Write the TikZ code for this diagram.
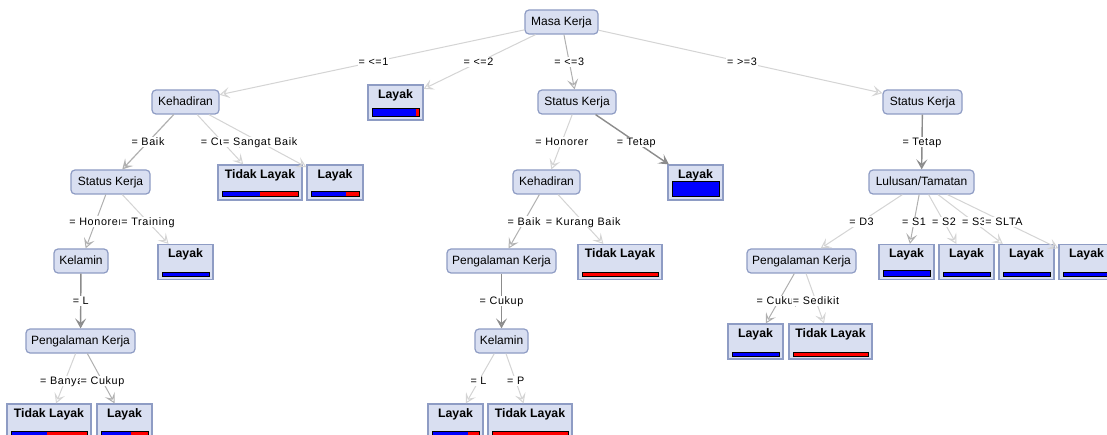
\documentclass[tikz,border=0pt]{standalone}
\usepackage{fontspec}
\setmainfont{Liberation Sans}
\newfontfamily\lblfont[LetterSpace=6]{Liberation Sans}
\usetikzlibrary{arrows.meta}
\definecolor{nfill}{HTML}{D9DFF1}
\definecolor{nborder}{HTML}{8E9CC4}
\definecolor{elight}{HTML}{D4D4D4}
\definecolor{emed}{HTML}{B0B0B0}
\definecolor{edark}{HTML}{8C8C8C}
\definecolor{barblue}{HTML}{0000FF}
\definecolor{barred}{HTML}{FF0000}
\tikzset{
 intnode/.style={draw=nborder, fill=nfill, rounded corners=4pt, line width=1.2pt, minimum height=24pt, inner xsep=3pt, inner ysep=0pt, font=\fontsize{12}{14}\selectfont, text height=8.8pt, text depth=2.6pt},
 leaf/.style={draw=nborder, fill=nfill, line width=1.2pt, minimum height=35pt, inner sep=0pt},
 leaftxt/.style={anchor=base, inner sep=0pt, font=\bfseries\fontsize{12.3}{14}\selectfont},
 lbl/.style={fill=white, inner xsep=1pt, inner ysep=1pt, font=\lblfont\fontsize{10.8}{12}\selectfont, text height=7.8pt, text depth=0.5pt},
 conn/.style={draw=#1, line width=1pt, -{Stealth[open, length=10pt, width=11pt, inset=4.5pt]}},
 conn/.default=elight,
 connd/.style={conn=edark, line width=1.4pt},
}
\newcommand\leafnode[7]{%
 \node[leaf, minimum width=#4pt] (#1) at (#2,#3) {};
 \node[leaftxt] at ([yshift=-14pt]#1.north) {#5};
 \pgfmathsetmacro\lfxa{#2-#4/2+4}%
 \pgfmathsetmacro\lfxb{#2+#4/2-4}%
 \pgfmathsetmacro\lfxm{\lfxa+(\lfxb-\lfxa)*#6}%
 \pgfmathsetmacro\lfyb{#3+17.5-3}%
 \pgfmathsetmacro\lfyt{\lfyb-#7}%
 \fill[barred] (\lfxa,\lfyb) rectangle (\lfxb,\lfyt);
 \fill[barblue] (\lfxa,\lfyb) rectangle (\lfxm,\lfyt);
 \draw[black, line width=1pt] (\lfxa,\lfyb) rectangle (\lfxb,\lfyt);
}
\begin{document}
\begin{tikzpicture}[x=1pt, y=-1pt]
\fill[white] (0,0) rectangle (1107,435);
\useasboundingbox (0,0) rectangle (1107,435);
\clip (0,0) rectangle (1107,435);
% internal nodes
\node[intnode, minimum width=73pt] (root) at (561.5,22) {Masa Kerja};
\node[intnode, minimum width=67pt] (kehL) at (185.5,102) {Kehadiran};
\node[intnode, minimum width=78pt] (statM) at (577,102) {Status Kerja};
\node[intnode, minimum width=79pt] (statR) at (922.5,102) {Status Kerja};
\node[intnode, minimum width=79pt] (statL) at (110.5,182) {Status Kerja};
\node[intnode, minimum width=67pt] (kehM) at (546.5,182) {Kehadiran};
\node[intnode, minimum width=105pt] (lulus) at (921.5,182) {Lulusan/Tamatan};
\node[intnode, minimum width=54pt] (kelL) at (81,261) {Kelamin};
\node[intnode, minimum width=109pt] (pengM) at (501.5,261) {Pengalaman Kerja};
\node[intnode, minimum width=109pt] (pengR) at (801.5,261) {Pengalaman Kerja};
\node[intnode, minimum width=109pt] (pengL) at (80.5,341) {Pengalaman Kerja};
\node[intnode, minimum width=53pt] (kelM) at (501.5,341) {Kelamin};
% leaves
\leafnode{lyA}{395.5}{102.5}{55}{Layak}{0.93}{8}
\leafnode{tlK}{260}{182.5}{84}{Tidak Layak}{0.5}{5}
\leafnode{lySB}{335}{182.5}{56}{Layak}{0.72}{5}
\leafnode{lyTetap}{695.5}{182.5}{55}{Layak}{1}{15}
\leafnode{lyTrain}{185.5}{262}{55}{Layak}{1}{4}
\leafnode{tlKB}{620}{262}{84}{Tidak Layak}{0}{4}
\leafnode{lyS1}{906.5}{262}{55}{Layak}{1}{6}
\leafnode{lyS2}{966.5}{262}{55}{Layak}{1}{4}
\leafnode{lyS3}{1026.5}{262}{55}{Layak}{1}{4}
\leafnode{lySLTA}{1086.5}{262}{55}{Layak}{1}{4}
\leafnode{lyCR}{755.5}{341.5}{55}{Layak}{1}{4}
\leafnode{tlSed}{830.5}{341.5}{83}{Tidak Layak}{0}{4}
\leafnode{tlBany}{49}{421.5}{84}{Tidak Layak}{0.48}{5}
\leafnode{lyCL}{124.5}{421.5}{55}{Layak}{0.64}{5}
\leafnode{lyL}{455.5}{421.5}{55}{Layak}{0.77}{5}
\leafnode{tlP}{530}{421.5}{84}{Tidak Layak}{0}{5}
% connectors
\draw[conn] (root) -- (kehL);
\draw[conn] (root) -- (lyA);
\draw[conn=emed] (root) -- (statM);
\draw[conn] (root) -- (statR);
\draw[conn=emed, line width=1.2pt] (kehL) -- (statL);
\draw[conn] (kehL) -- (tlK);
\draw[conn] (kehL) -- (lySB);
\draw[conn=emed] (statL) -- (kelL);
\draw[conn] (statL) -- (lyTrain);
\draw[connd] (kelL) -- (pengL);
\draw[conn] (pengL) -- (tlBany);
\draw[conn=emed] (pengL) -- (lyCL);
\draw[conn] (statM) -- (kehM);
\draw[connd] (statM) -- (lyTetap);
\draw[conn=emed] (kehM) -- (pengM);
\draw[conn] (kehM) -- (tlKB);
\draw[connd] (pengM) -- (kelM);
\draw[conn] (kelM) -- (lyL);
\draw[conn] (kelM) -- (tlP);
\draw[connd] (statR) -- (lulus);
\draw[conn] (lulus) -- (pengR);
\draw[conn=emed] (lulus) -- (lyS1);
\draw[conn] (lulus) -- (lyS2);
\draw[conn] (lulus) -- (lyS3);
\draw[conn] (lulus) -- (lySLTA);
\draw[conn=emed] (pengR) -- (lyCR);
\draw[conn] (pengR) -- (tlSed);
% labels
\path (root.center) -- (kehL.center) node[midway, lbl] {= <=1};
\path (root.center) -- (lyA.center) node[midway, lbl] {= <=2};
\path (root.center) -- (statM.center) node[midway, lbl] {= <=3};
\path (root.center) -- (statR.center) node[midway, lbl] {= >=3};
\path (kehL.center) -- (statL.center) node[midway, lbl] {= Baik};
\path (kehL.center) -- (tlK.center) node[midway, lbl] {= Cukup};
\path (kehL.center) -- (lySB.center) node[midway, lbl] {= Sangat Baik};
\path (statL.center) -- (kelL.center) node[midway, lbl] {= Honorer};
\path (statL.center) -- (lyTrain.center) node[midway, lbl] {= Training};
\path (kelL.center) -- (pengL.center) node[midway, lbl] {= L};
\path (pengL.center) -- (tlBany.center) node[midway, lbl] {= Banyak};
\path (pengL.center) -- (lyCL.center) node[midway, lbl] {= Cukup};
\path (statM.center) -- (kehM.center) node[midway, lbl] {= Honorer};
\path (statM.center) -- (lyTetap.center) node[midway, lbl] {= Tetap};
\path (kehM.center) -- (pengM.center) node[midway, lbl] {= Baik};
\path (kehM.center) -- (tlKB.center) node[midway, lbl] {= Kurang Baik};
\path (pengM.center) -- (kelM.center) node[midway, lbl] {= Cukup};
\path (kelM.center) -- (lyL.center) node[midway, lbl] {= L};
\path (kelM.center) -- (tlP.center) node[midway, lbl] {= P};
\path (statR.center) -- (lulus.center) node[midway, lbl] {= Tetap};
\path (lulus.center) -- (pengR.center) node[midway, lbl] {= D3};
\path (lulus.center) -- (lyS1.center) node[midway, lbl] {= S1};
\path (lulus.center) -- (lyS2.center) node[midway, lbl] {= S2};
\path (lulus.center) -- (lyS3.center) node[midway, lbl] {= S3};
\path (lulus.center) -- (lySLTA.center) node[midway, lbl] {= SLTA};
\path (pengR.center) -- (lyCR.center) node[midway, lbl] {= Cukup};
\path (pengR.center) -- (tlSed.center) node[midway, lbl] {= Sedikit};
\end{tikzpicture}
\end{document}
